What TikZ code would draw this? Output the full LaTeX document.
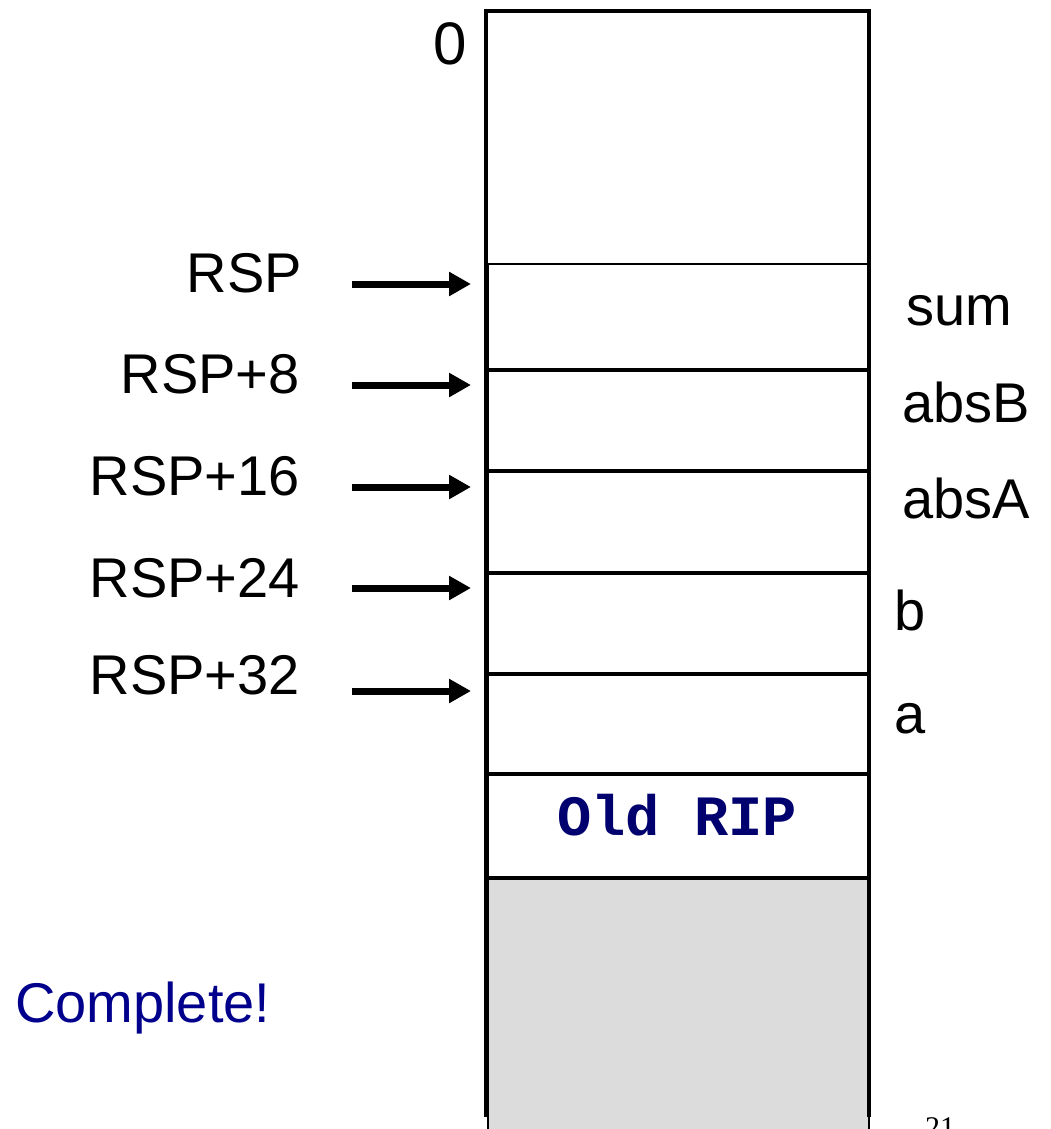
\documentclass[tikz,border=0pt]{standalone}
\usepackage{fontspec}
\setmainfont{Liberation Sans}
\newfontfamily\ripfont{Liberation Mono}
\newfontfamily\pagefont{Liberation Serif}
\usetikzlibrary{arrows.meta}
\definecolor{navyblue}{RGB}{0,0,140}
\definecolor{ripblue}{RGB}{0,0,110}
\definecolor{stackgray}{RGB}{220,220,220}
\begin{document}
\begin{tikzpicture}[x=1pt,y=-1pt,
  cell/.style={draw=black, line width=2pt, fill=white, rectangle, minimum width=381pt, inner sep=0pt},
  lbl/.style={font=\fontsize{56}{60}\selectfont, inner sep=0pt},
  ptr/.style={line width=7pt, -{Triangle[length=22pt,width=23pt]}},
  frame/.style={line width=4.5pt}
]
\useasboundingbox (0,0) rectangle (1051,1129);
% cells
\node[cell, minimum height=105pt] (c1) at (678.5,316.5) {};
\node[cell, minimum height=99pt]  (c2) at (678.5,420.5) {};
\node[cell, minimum height=100pt] (c3) at (678.5,522) {};
\node[cell, minimum height=99pt]  (c4) at (678.5,623.5) {};
\node[cell, minimum height=98pt]  (c5) at (678.5,724) {};
\node[cell, minimum height=102pt] (rip) at (678.5,826) {};
\node[cell, minimum height=281pt, fill=stackgray] (old) at (678.5,1019.5) {};
\node[font=\ripfont\bfseries\fontsize{57}{60}\selectfont, text=ripblue, anchor=base, inner sep=0pt] (riptext) at (677,835) {Old RIP};
% outer frame
\draw[frame] (486,1117) -- (486,11) -- (869,11) -- (869,1117);
% address labels
\node[lbl, anchor=base east] (l0) at (467,65) {\fontsize{60}{64}\selectfont 0};
\node[lbl, anchor=base east] (l1) at (302,292) {RSP};
\node[lbl, anchor=base east] (l2) at (300,393) {RSP+8};
\node[lbl, anchor=base east] (l3) at (300,495) {RSP+16};
\node[lbl, anchor=base east] (l4) at (300,597) {RSP+24};
\node[lbl, anchor=base east] (l5) at (300,694) {RSP+32};
% arrows
\coordinate (a1) at (352,284);
\coordinate (a2) at (352,385);
\coordinate (a3) at (352,487);
\coordinate (a4) at (352,588);
\coordinate (a5) at (352,691);
\draw[ptr] (a1) -- ([xshift=-16pt]a1 -| c1.west);
\draw[ptr] (a2) -- ([xshift=-16pt]a2 -| c2.west);
\draw[ptr] (a3) -- ([xshift=-16pt]a3 -| c3.west);
\draw[ptr] (a4) -- ([xshift=-16pt]a4 -| c4.west);
\draw[ptr] (a5) -- ([xshift=-16pt]a5 -| c5.west);
% variable names
\node[lbl, anchor=base west] (v1) at (906,325) {sum};
\node[lbl, anchor=base west] (v2) at (902,422) {absB};
\node[lbl, anchor=base west] (v3) at (902,518) {absA};
\node[lbl, anchor=base west] (v4) at (894,630) {b};
\node[lbl, anchor=base west] (v5) at (894,733) {a};
% status
\node[lbl, anchor=base west, text=navyblue] (done) at (15,1022) {Complete!};
% page number
\node[font=\pagefont\fontsize{30}{32}\selectfont, anchor=base west, inner sep=0pt] (pg) at (925,1137) {21};
\end{tikzpicture}
\end{document}
